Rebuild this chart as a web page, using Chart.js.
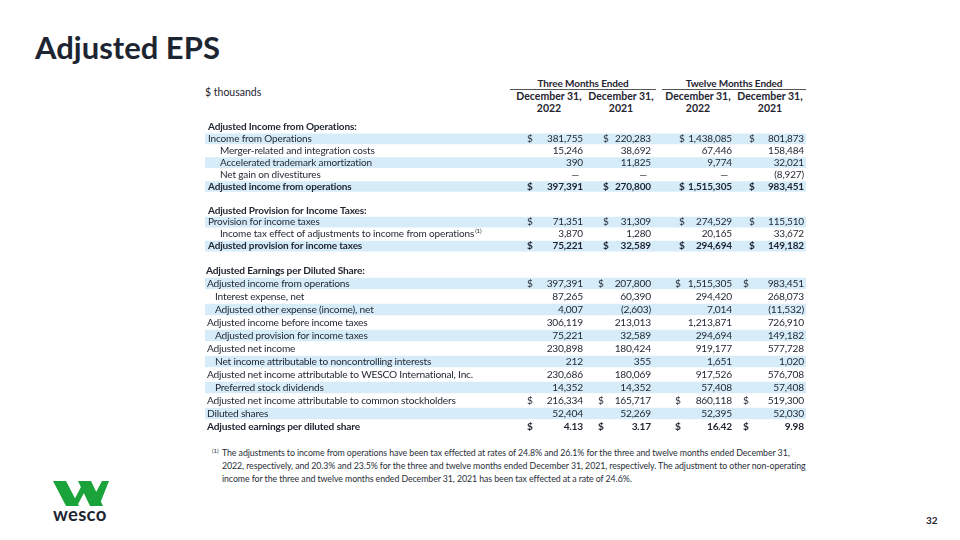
<!DOCTYPE html>
<html>
<head>
<meta charset="utf-8">
<script src="https://cdn.jsdelivr.net/npm/chart.js@4.4.0/dist/chart.umd.min.js"></script>
<style>
  html, body { margin: 0; padding: 0; }
  body { width: 960px; height: 540px; position: relative; overflow: hidden; background: #fff; font-family: Lato, "Noto Sans", sans-serif; color: #1f2430; }
  .abs { position: absolute; white-space: nowrap; }
  #title { left: 35px; top: 29px; font-size: 31px; line-height: 36px; font-weight: 700; color: #1e2532; }
  .grp { font-weight: 700; font-size: 10px; line-height: 12px; text-align: center; letter-spacing: -0.1px; }
  .colh { font-weight: 700; font-size: 10.5px; line-height: 12px; text-align: center; width: 80px; }
  .rule { position: absolute; height: 0; border-top: 1.5px solid #555; }
  #units { left: 205px; top: 86px; font-size: 10.5px; line-height: 12px; }
  #note { left: 222px; top: 446px; font-size: 8.8px; line-height: 13px; color: #2a2f38; letter-spacing: -0.08px; }
  #noteSup { left: 212px; top: 446px; font-size: 6px; line-height: 10px; color: #2a2f38; }
  #page { left: 926px; top: 514px; font-size: 10px; font-weight: 700; line-height: 12px; }
  #wesco { left: 53px; top: 503px; font-size: 18.5px; font-weight: 700; line-height: 22px; color: #1e2532; letter-spacing: 0.3px; }
  canvas { position: absolute; }
</style>
</head>
<body>
<div id="title" class="abs">Adjusted EPS</div>
<div id="units" class="abs">$ thousands</div>

<div class="abs grp" style="left:510px; top:77px; width:146px;">Three Months Ended</div>
<div class="rule" style="left:510px; top:89px; width:146px;"></div>
<div class="abs grp" style="left:662px; top:77px; width:144px;">Twelve Months Ended</div>
<div class="rule" style="left:662px; top:89px; width:144px;"></div>
<div id="colHeads"></div>

<canvas id="tA" width="601" height="131" style="left:205px; top:121px;"></canvas>
<canvas id="tB" width="601" height="169" style="left:205px; top:263.5px;"></canvas>

<div id="noteSup" class="abs">(1)</div>
<div id="note" class="abs">The adjustments to income from operations have been tax effected at rates of 24.8% and 26.1% for the three and twelve months ended December 31,<br>2022, respectively, and 20.3% and 23.5% for the three and twelve months ended December 31, 2021, respectively. The adjustment to other non-operating<br>income for the three and twelve months ended December 31, 2021 has been tax effected at a rate of 24.6%.</div>

<svg class="abs" style="left:52px; top:480px;" width="58" height="27" viewBox="0 0 58 27">
  <polygon points="1,1 14,1 27,26 14,26" fill="#1aa33a"/>
  <polygon points="19,26 30,5 33,11 25,26" fill="#1aa33a"/>
  <polygon points="26,1 39,1 51,26 38,26" fill="#1aa33a"/>
  <polygon points="42,16 50,1 57,1 47,26" fill="#1aa33a"/>
</svg>
<div id="wesco" class="abs">wesco</div>
<div id="page" class="abs">32</div>

<script>
// ---------- column headers ----------
const colHeadTop = ['December 31,', 'December 31,', 'December 31,', 'December 31,'];
const colHeadYear = ['2022', '2021', '2022', '2021'];

// ---------- table A: income from operations + provision for taxes ----------
const labelsA = [
  'Adjusted Income from Operations:',
  'Income from Operations',
  'Merger-related and integration costs',
  'Accelerated trademark amortization',
  'Net gain on divestitures',
  'Adjusted income from operations',
  '',
  'Adjusted Provision for Income Taxes:',
  'Provision for income taxes',
  'Income tax effect of adjustments to income from operations',
  'Adjusted provision for income taxes'
];
const q4y22A = [null, 381755, 15246, 390, 0, 397391, null, null, 71351, 3870, 75221];
const q4y21A = [null, 220283, 38692, 11825, 0, 270800, null, null, 31309, 1280, 32589];
const fy22A  = [null, 1438085, 67446, 9774, 0, 1515305, null, null, 274529, 20165, 294694];
const fy21A  = [null, 801873, 158484, 32021, -8927, 983451, null, null, 115510, 33672, 149182];
const notesA = ['', '', '', '', '', '', '', '', '', '(1)', ''];

// ---------- table B: adjusted earnings per diluted share ----------
const labelsB = [
  'Adjusted Earnings per Diluted Share:',
  'Adjusted income from operations',
  'Interest expense, net',
  'Adjusted other expense (income), net',
  'Adjusted income before income taxes',
  'Adjusted provision for income taxes',
  'Adjusted net income',
  'Net income attributable to noncontrolling interests',
  'Adjusted net income attributable to WESCO International, Inc.',
  'Preferred stock dividends',
  'Adjusted net income attributable to common stockholders',
  'Diluted shares',
  'Adjusted earnings per diluted share'
];
const q4y22B = [null, 397391, 87265, 4007, 306119, 75221, 230898, 212, 230686, 14352, 216334, 52404, 4.13];
const q4y21B = [null, 207800, 60390, -2603, 213013, 32589, 180424, 355, 180069, 14352, 165717, 52269, 3.17];
const fy22B  = [null, 1515305, 294420, 7014, 1213871, 294694, 919177, 1651, 917526, 57408, 860118, 52395, 16.42];
const fy21B  = [null, 983451, 268073, -11532, 726910, 149182, 577728, 1020, 576708, 57408, 519300, 52030, 9.98];
const notesB = ['', '', '', '', '', '', '', '', '', '', '', '', ''];

// ---------- row styling (kept apart from the values) ----------
const kindsA = ['head', 'row', 'indent', 'indent', 'indent', 'total', 'blank', 'head', 'row', 'indent', 'total'];
const shadeA = [0, 1, 0, 1, 0, 1, 0, 0, 1, 0, 1];
const dollarA = [0, 1, 0, 0, 0, 1, 0, 0, 1, 0, 1];
const decA = [0, 0, 0, 0, 0, 0, 0, 0, 0, 0, 0];

const kindsB = ['head', 'row', 'indent', 'indent', 'row', 'indent', 'row', 'indent', 'row', 'indent', 'row', 'row', 'total'];
const shadeB = [0, 1, 0, 1, 0, 1, 0, 1, 0, 1, 0, 1, 0];
const dollarB = [0, 1, 0, 0, 0, 0, 0, 0, 0, 0, 1, 0, 1];
const decB = [0, 0, 0, 0, 0, 0, 0, 0, 0, 0, 0, 0, 2];

const FONT = 'Lato, "Noto Sans", sans-serif';
const TEXT = '#1f2430';
const SHADE = '#d6edf9';
const CANVAS_LEFT = 205;
const NUM_RIGHT = [583, 651, 732, 804];
const COL_CENTER = [549, 621, 698, 770];

// column header text
(function () {
  const host = document.getElementById('colHeads');
  colHeadTop.forEach((t, i) => {
    const d = document.createElement('div');
    d.className = 'abs colh';
    d.style.left = (COL_CENTER[i] - 40) + 'px';
    d.style.top = '90px';
    d.innerHTML = t + '<br>' + colHeadYear[i];
    host.appendChild(d);
  });
})();

function fmt(v, dec) {
  if (v === 0) return '\u2014';
  const s = Math.abs(v).toLocaleString('en-US', { minimumFractionDigits: dec, maximumFractionDigits: dec });
  return v < 0 ? '(' + s + ')' : s;
}

function makeRowPlugin(t) {
  return {
    id: 'rowText' + t.id,
    afterDatasetsDraw(chart) {
      const ctx = chart.ctx;
      const ys = chart.scales.y;
      const cols = [t.q4y22, t.q4y21, t.fy22, t.fy21];
      ctx.save();
      ctx.textBaseline = 'middle';
      ctx.fillStyle = TEXT;
      if ('letterSpacing' in ctx) ctx.letterSpacing = t.spacing;
      t.labels.forEach((lab, i) => {
        const kind = t.kinds[i];
        if (kind === 'blank') return;
        const y = ys.getPixelForValue(i);
        const bold = kind === 'head' || kind === 'total';
        const font = (bold ? 'bold ' : '') + t.size + 'px ' + FONT;
        ctx.font = font;
        ctx.textAlign = 'left';
        const lx = (kind === 'indent' ? t.indentX : kind === 'head' ? t.headX : t.rowX) - CANVAS_LEFT;
        ctx.fillText(lab, lx, y);
        if (t.notes[i]) {
          const w = ctx.measureText(lab).width;
          ctx.font = (t.size * 0.6) + 'px ' + FONT;
          ctx.fillText(t.notes[i], lx + w + 1, y - 3);
          ctx.font = font;
        }
        cols.forEach((arr, c) => {
          const v = arr[i];
          if (v === null || v === undefined) return;
          ctx.textAlign = 'right';
          const s = fmt(v, t.dec[i]);
          const rx = NUM_RIGHT[c] - CANVAS_LEFT - (v === 0 ? 4 : 0);
          ctx.fillText(s, rx, y);
          if (t.dollar[i]) {
            ctx.textAlign = 'left';
            ctx.fillText('$', t.dollarX[c] - CANVAS_LEFT, y);
          }
        });
      });
      ctx.restore();
    }
  };
}

function makeTable(canvasId, t) {
  return new Chart(document.getElementById(canvasId), {
    type: 'bar',
    data: {
      labels: t.labels,
      datasets: [{
        data: t.shade.map(s => (s ? 1 : null)),
        backgroundColor: SHADE,
        borderWidth: 0,
        barPercentage: 1,
        categoryPercentage: 0.9
      }]
    },
    options: {
      indexAxis: 'y',
      responsive: false,
      maintainAspectRatio: false,
      animation: false,
      layout: { padding: 0 },
      events: [],
      plugins: { legend: { display: false }, tooltip: { enabled: false } },
      scales: {
        x: { display: false, min: 0, max: 1 },
        y: { display: false, offset: true }
      }
    },
    plugins: [makeRowPlugin(t)]
  });
}

makeTable('tA', {
  id: 'A', labels: labelsA, q4y22: q4y22A, q4y21: q4y21A, fy22: fy22A, fy21: fy21A,
  notes: notesA, kinds: kindsA, shade: shadeA, dollar: dollarA, dec: decA,
  size: 10, spacing: '-0.15px', headX: 208, rowX: 208, indentX: 220,
  dollarX: [527, 603, 679, 749]
});
makeTable('tB', {
  id: 'B', labels: labelsB, q4y22: q4y22B, q4y21: q4y21B, fy22: fy22B, fy21: fy21B,
  notes: notesB, kinds: kindsB, shade: shadeB, dollar: dollarB, dec: decB,
  size: 10.2, spacing: '-0.2px', headX: 206, rowX: 207, indentX: 215,
  dollarX: [527, 598, 675, 743]
});
</script>
</body>
</html>
